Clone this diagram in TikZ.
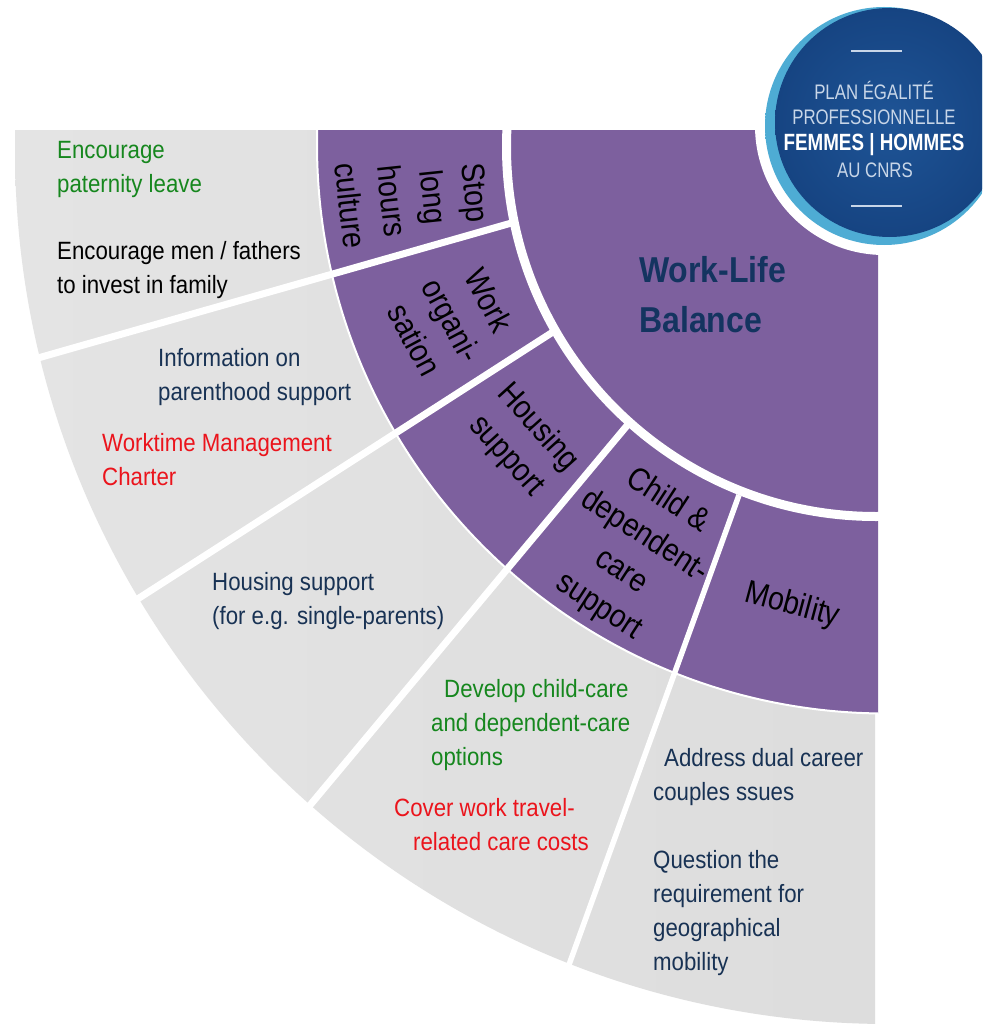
\documentclass[tikz,border=0pt]{standalone}
\usepackage{fontspec}
\setmainfont{Liberation Sans}
\newfontfamily\itemfont[FakeStretch=0.89]{Liberation Sans}
\newfontfamily\ringfont[FakeStretch=0.88]{Liberation Sans}
\newfontfamily\badgefont[FakeStretch=0.8]{Liberation Sans}
\definecolor{ringpurple}{RGB}{125, 96, 158}
\definecolor{greyleft}{RGB}{228, 228, 228}
\definecolor{greyright}{RGB}{213, 213, 213}
\definecolor{itemnavy}{RGB}{24, 50, 84}
\definecolor{itemgreen}{RGB}{22, 135, 30}
\definecolor{itemred}{RGB}{235, 20, 28}
\definecolor{titlenavy}{RGB}{20, 52, 96}
\definecolor{badgeblue}{RGB}{30, 84, 150}
\definecolor{badgedark}{RGB}{22, 68, 130}
\definecolor{badgerimtop}{RGB}{28, 90, 150}
\definecolor{badgerim}{RGB}{78, 172, 212}
\definecolor{badgetext}{RGB}{200, 214, 232}
\tikzset{
  itemtext/.style={font=\itemfont\fontsize{25}{34}\selectfont, anchor=west, align=left, inner sep=0pt},
  ringlabel/.style={font=\ringfont\fontsize{32.5}{42}\selectfont, align=center, inner sep=0pt, text=black},
  spoke/.style={draw=white, line width=7pt},
  badgeline/.style={font=\badgefont\fontsize{21}{26}\selectfont, text=badgetext, inner sep=0pt},
}
\begin{document}
\begin{tikzpicture}[x=1pt, y=-1pt]
  \clip (0, 0) rectangle (982, 1024);
  \fill[white] (0, 0) rectangle (982, 1024);

  % Grey ring
  \begin{scope}
    \clip (0, 131) rectangle (875, 1024);
    \shade[left color=greyleft, right color=greyright] (889, 150) circle [radius=874];
  \end{scope}

  % Purple ring
  \begin{scope}
    \clip (0, 131) rectangle (878, 1024);
    \fill[ringpurple, draw=white, line width=2pt] (886, 144.5) circle [radius=569];
  \end{scope}
  \draw[white, line width=9pt] (876, 147) circle [radius=369.5];

  % Spokes
  \coordinate (spokeAin) at (515, 222);
  \coordinate (spokeAout) at (38, 358);
  \coordinate (spokeBin) at (556, 330);
  \coordinate (spokeBout) at (136, 600);
  \coordinate (spokeCin) at (630, 422);
  \coordinate (spokeCout) at (306, 810);
  \coordinate (spokeDin) at (739, 495);
  \coordinate (spokeDout) at (566, 973);
  \draw[spoke] (spokeAin) -- (spokeAout);
  \draw[spoke] (spokeBin) -- (spokeBout);
  \draw[spoke] (spokeCin) -- (spokeCout);
  \draw[spoke, line width=5.5pt] (spokeDin) -- (spokeDout);

  % Centre
  \node[font=\itemfont\fontsize{36}{50}\selectfont\bfseries, text=titlenavy, anchor=west, align=left, inner sep=0pt] (balance) at (639, 295) {Work-Life\\Balance};

  % Purple ring labels
  \node[ringlabel, rotate=-84] (stoplong) at (413, 199) {Stop\\long\\hours\\culture};
  \node[ringlabel, rotate=-62] (workorg) at (452, 320) {Work\\organi-\\sation};
  \node[ringlabel, rotate=-48] (housing) at (522, 442) {Housing\\support};
  \node[ringlabel, rotate=-33] (childcare) at (633, 554) {Child \&\\dependent-\\care\\support};
  \node[ringlabel, rotate=-15] (mobility) at (792, 606) {Mobility};

  % Grey ring texts
  \node[itemtext, text=itemgreen] (paternity) at (57, 169) {Encourage\\paternity leave};
  \node[itemtext, text=black] (fathers) at (57, 270) {Encourage men / fathers\\to invest in family};
  \node[itemtext, text=itemnavy] (parenthood) at (158, 377) {Information on\\parenthood support};
  \node[itemtext, text=itemred] (charter) at (102, 460) {Worktime Management\\Charter};
  \node[itemtext, text=itemnavy] (singleparents) at (212, 601) {Housing support\\(for e.g. single-parents)};
  \node[itemtext, text=itemgreen] (develop) at (431, 725) {\hspace*{13pt}Develop child-care\\and dependent-care\\options};
  \node[itemtext, text=itemred] (travel) at (394, 825) {Cover work travel-\\\hspace*{19pt}related care costs};
  \node[itemtext, text=itemnavy] (dualcareer) at (653, 777) {\hspace*{11pt}Address dual career\\couples ssues};
  \node[itemtext, text=itemnavy] (geography) at (653, 913) {Question the\\requirement for\\geographical\\mobility};

  % Badge
  \fill[white] (884, 126) circle [radius=129];
  \shade[left color=badgerim, middle color=badgerimtop, right color=badgerim] (884, 126) circle [radius=119];
  \shade[inner color=badgeblue, outer color=badgedark] (889.5, 122.5) circle [radius=114.5];
  \coordinate (badgetopl) at (851, 51);
  \coordinate (badgetopr) at (902, 51);
  \coordinate (badgebotl) at (851, 206);
  \coordinate (badgebotr) at (902, 206);
  \draw[badgetext, line width=2pt] (badgetopl) -- (badgetopr);
  \draw[badgetext, line width=2pt] (badgebotl) -- (badgebotr);
  \node[badgeline] (plan) at (874, 90) {PLAN ÉGALITÉ};
  \node[badgeline] (pro) at (874, 117) {PROFESSIONNELLE};
  \node[font=\badgefont\fontsize{23.5}{26}\selectfont\bfseries, text=white, inner sep=0pt] (femmes) at (874, 145) {FEMMES | HOMMES};
  \node[badgeline] (cnrs) at (875, 170) {AU CNRS};
\end{tikzpicture}
\end{document}
